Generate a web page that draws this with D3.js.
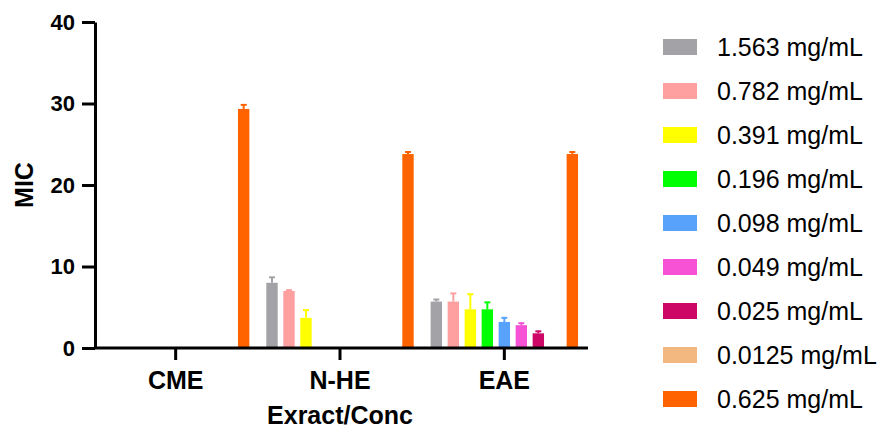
<!DOCTYPE html>
<html>
<head>
<meta charset="utf-8">
<script src="https://cdn.jsdelivr.net/npm/d3@7"></script>
<style>
  body { margin: 0; background: #fff; }
  text { font-family: "Liberation Sans", Arial, sans-serif; fill: #000; }
</style>
</head>
<body>
<div id="chart"></div>
<script>
// groups on the x axis and the concentration series
var groups = ["CME", "N-HE", "EAE"];
var series = ["1.563 mg/mL", "0.782 mg/mL", "0.391 mg/mL", "0.196 mg/mL", "0.098 mg/mL",
              "0.049 mg/mL", "0.025 mg/mL", "0.0125 mg/mL", "0.625 mg/mL"];
var colors = ["#a3a2a7", "#ffa0a0", "#ffff00", "#00ff00", "#58a2fc",
              "#f752d6", "#cc0766", "#f2b880", "#ff6300"];

// MIC means per group (one value per series), 0 = no bar
var cmeMIC = [0, 0, 0, 0, 0, 0, 0, 0, 29.33];
var nheMIC = [8.0, 7.0, 3.7, 0, 0, 0, 0, 0, 23.8];
var eaeMIC = [5.7, 5.7, 4.75, 4.75, 3.2, 2.8, 1.8, 0, 23.8];

// upper error (SD)
var cmeErr = [0, 0, 0, 0, 0, 0, 0, 0, 0.5];
var nheErr = [0.67, 0.1, 0.95, 0, 0, 0, 0, 0, 0.25];
var eaeErr = [0.25, 1.0, 1.85, 0.85, 0.5, 0.25, 0.25, 0, 0.25];

var yTicks = [0, 10, 20, 30, 40];

var svgWidth = 888;
var svgHeight = 430;
var margin = { top: 22, right: 300, bottom: 82, left: 95 };
var width = 588 - margin.left;
var height = svgHeight - margin.top - margin.bottom;

var svg = d3.select("#chart")
  .append("svg")
  .attr("width", svgWidth)
  .attr("height", svgHeight);

var chartGroup = svg.append("g")
  .attr("transform", `translate(${margin.left}, ${margin.top})`);

// build rows from the arrays
var means = [cmeMIC, nheMIC, eaeMIC];
var errs = [cmeErr, nheErr, eaeErr];
var rows = [];
groups.forEach(function(g, gi) {
  series.forEach(function(s, si) {
    rows.push({ group: g, series: s, value: means[gi][si], err: errs[gi][si], color: colors[si] });
  });
});

var x0 = d3.scaleBand()
  .domain(groups)
  .range([-1.5, width - 1.5])
  .paddingInner(0.07)
  .paddingOuter(0.035);

var x1 = d3.scaleBand()
  .domain(series)
  .range([0, x0.bandwidth()])
  .paddingInner(0.33)
  .paddingOuter(0.16);

var y = d3.scaleLinear()
  .domain([0, 40])
  .range([height, 0]);

// bars
var bars = rows.filter(d => d.value > 0);

chartGroup.selectAll("rect.bar")
  .data(bars)
  .enter()
  .append("rect")
  .attr("class", "bar")
  .attr("x", d => x0(d.group) + x1(d.series))
  .attr("y", d => y(d.value))
  .attr("width", x1.bandwidth())
  .attr("height", d => y(0) - y(d.value))
  .attr("fill", d => d.color);

// error bars (upper only)
var errBars = bars.filter(d => d.err > 0);

chartGroup.selectAll("line.err")
  .data(errBars)
  .enter()
  .append("line")
  .attr("class", "err")
  .attr("x1", d => x0(d.group) + x1(d.series) + x1.bandwidth() / 2)
  .attr("x2", d => x0(d.group) + x1(d.series) + x1.bandwidth() / 2)
  .attr("y1", d => y(d.value))
  .attr("y2", d => y(d.value + d.err))
  .attr("stroke", d => d.color)
  .attr("stroke-width", 2);

chartGroup.selectAll("line.cap")
  .data(errBars)
  .enter()
  .append("line")
  .attr("class", "cap")
  .attr("x1", d => x0(d.group) + x1(d.series) + x1.bandwidth() / 2 - 3)
  .attr("x2", d => x0(d.group) + x1(d.series) + x1.bandwidth() / 2 + 3)
  .attr("y1", d => y(d.value + d.err))
  .attr("y2", d => y(d.value + d.err))
  .attr("stroke", d => d.color)
  .attr("stroke-width", 2);

// axes
var leftAxis = d3.axisLeft(y).tickValues(yTicks).tickSize(13).tickSizeOuter(0).tickPadding(7);
var bottomAxis = d3.axisBottom(x0).tickSize(12).tickSizeOuter(0).tickPadding(11);

var yAxis = chartGroup.append("g").call(leftAxis);
var xAxis = chartGroup.append("g")
  .attr("transform", `translate(0, ${height})`)
  .call(bottomAxis);

// x axis line spans the full plot width
xAxis.select(".domain").attr("d", `M0,0H${width}`);

[yAxis, xAxis].forEach(function(ax) {
  ax.select(".domain").attr("stroke", "#000").attr("stroke-width", 3);
  ax.selectAll(".tick line").attr("stroke", "#000").attr("stroke-width", 3);
});

yAxis.selectAll("text")
  .attr("font-size", 22)
  .attr("font-weight", "bold")
  .style("font-family", '"Liberation Sans", Arial, sans-serif');

xAxis.selectAll("text")
  .attr("font-size", 25)
  .attr("font-weight", "bold")
  .style("font-family", '"Liberation Sans", Arial, sans-serif');

// axis titles
chartGroup.append("text")
  .attr("transform", "rotate(-90)")
  .attr("x", -height / 2)
  .attr("y", 33 - margin.left)
  .attr("text-anchor", "middle")
  .attr("font-size", 25)
  .attr("font-weight", "bold")
  .text("MIC");

chartGroup.append("text")
  .attr("x", width / 2 - 1.5)
  .attr("y", 424 - margin.top)
  .attr("text-anchor", "middle")
  .attr("font-size", 25)
  .attr("font-weight", "bold")
  .text("Exract/Conc");

// legend
var legend = svg.append("g")
  .attr("transform", "translate(663, 47)");

var legendItems = legend.selectAll("g")
  .data(series)
  .enter()
  .append("g")
  .attr("transform", (d, i) => `translate(0, ${i * 44})`);

legendItems.append("rect")
  .attr("x", 0)
  .attr("y", -8)
  .attr("width", 34)
  .attr("height", 16)
  .attr("fill", (d, i) => colors[i]);

legendItems.append("text")
  .attr("x", 54)
  .attr("y", 9)
  .attr("font-size", 25)
  .text(d => d);
</script>
</body>
</html>
